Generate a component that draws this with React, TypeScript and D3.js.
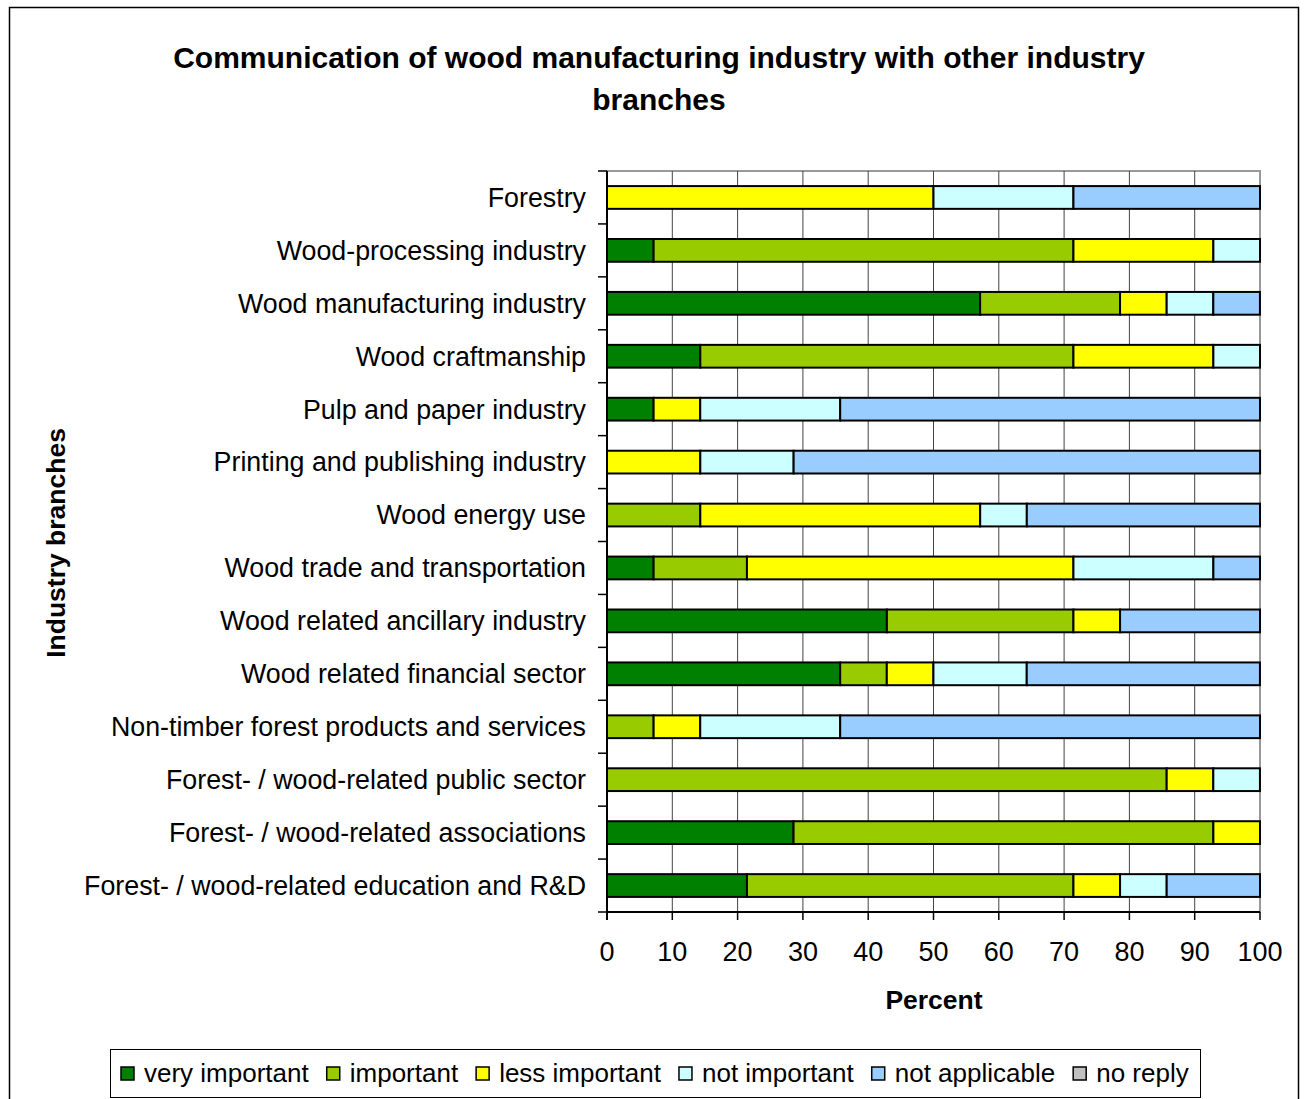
import React, { useEffect, useRef } from "react";
import * as d3 from "d3";

const categories = [
  "Forestry",
  "Wood-processing industry",
  "Wood manufacturing industry",
  "Wood craftmanship",
  "Pulp and paper industry",
  "Printing and publishing industry",
  "Wood energy use",
  "Wood trade and transportation",
  "Wood related ancillary industry",
  "Wood related financial sector",
  "Non-timber forest products and services",
  "Forest- / wood-related public sector",
  "Forest- / wood-related associations",
  "Forest- / wood-related education and R&D",
];

const seriesNames = ["very important", "important", "less important", "not important", "not applicable", "no reply"];
const seriesColors = ["#008000", "#99CC00", "#FFFF00", "#CCFFFF", "#99CCFF", "#C0C0C0"];

// percent values per series, in the same order as categories
const veryImportant = [0, 7.14, 57.14, 14.29, 7.14, 0, 0, 7.14, 42.86, 35.71, 0, 0, 28.57, 21.43];
const important = [0, 64.29, 21.43, 57.14, 0, 0, 14.29, 14.29, 28.57, 7.14, 7.14, 85.71, 64.29, 50];
const lessImportant = [50, 21.43, 7.14, 21.43, 7.14, 14.29, 42.86, 50, 7.14, 7.14, 7.14, 7.14, 7.14, 7.14];
const notImportant = [21.43, 7.14, 7.14, 7.14, 21.43, 14.29, 7.14, 21.43, 0, 14.29, 21.43, 7.14, 0, 7.14];
const notApplicable = [28.57, 0, 7.14, 0, 64.29, 71.43, 35.71, 7.14, 21.43, 35.71, 64.29, 0, 0, 14.29];
const noReply = [0, 0, 0, 0, 0, 0, 0, 0, 0, 0, 0, 0, 0, 0];

const xTicks = [0, 10, 20, 30, 40, 50, 60, 70, 80, 90, 100];

export default function App() {
  const ref = useRef<SVGSVGElement>(null);

  useEffect(() => {
    const svg = d3.select(ref.current);
    svg.selectAll("*").remove();
    const font = "'Liberation Sans', Arial, sans-serif";

    var left = 607, right = 1260, top = 171, bottom = 912;

    // outer frame
    svg.append("rect").attr("x", 9.5).attr("y", 7.5).attr("width", 1289).attr("height", 1100)
      .attr("fill", "white").attr("stroke", "#000").attr("stroke-width", 1.5);

    svg.append("text").attr("x", 659).attr("y", 68).attr("text-anchor", "middle")
      .attr("font-family", font).attr("font-size", 30).attr("font-weight", "bold")
      .text("Communication of wood manufacturing industry with other industry");
    svg.append("text").attr("x", 659).attr("y", 110).attr("text-anchor", "middle")
      .attr("font-family", font).attr("font-size", 30).attr("font-weight", "bold")
      .text("branches");

    var data = categories.map((c, i) => ({
      cat: c,
      "very important": veryImportant[i],
      important: important[i],
      "less important": lessImportant[i],
      "not important": notImportant[i],
      "not applicable": notApplicable[i],
      "no reply": noReply[i],
    }));

    var x = d3.scaleLinear().domain([0, 100]).range([left, right]);
    var y = d3.scaleBand().domain(categories).range([top, bottom]).paddingInner(0.57).paddingOuter(0.285);
    var band = (bottom - top) / categories.length;

    var g = svg.append("g");

    // plot area border and gridlines
    g.append("rect").attr("x", left).attr("y", top).attr("width", right - left).attr("height", bottom - top)
      .attr("fill", "white").attr("stroke", "#999").attr("stroke-width", 2);
    g.selectAll(".grid").data(xTicks.slice(1, -1)).join("line")
      .attr("x1", (d) => x(d)).attr("x2", (d) => x(d))
      .attr("y1", top).attr("y2", bottom)
      .attr("stroke", "#444").attr("stroke-width", 1);

    // stacked bars
    var stack = d3.stack<any>().keys(seriesNames)(data);
    stack.forEach((s, si) => {
      g.selectAll(".bar" + si).data(s).join("rect")
        .filter((d) => d[1] - d[0] > 0)
        .attr("x", (d) => x(d[0]))
        .attr("y", (d) => y(d.data.cat) as number)
        .attr("width", (d) => x(d[1]) - x(d[0]))
        .attr("height", y.bandwidth())
        .attr("fill", seriesColors[si])
        .attr("stroke", "#000").attr("stroke-width", 2);
    });

    // y axis
    g.append("line").attr("x1", left).attr("x2", left).attr("y1", top).attr("y2", bottom + 8)
      .attr("stroke", "#000").attr("stroke-width", 2);
    d3.range(categories.length + 1).forEach((i) => {
      g.append("line").attr("x1", left - 9).attr("x2", left).attr("y1", top + i * band).attr("y2", top + i * band)
        .attr("stroke", "#000").attr("stroke-width", 1.5);
    });
    g.selectAll(".ylab").data(categories).join("text")
      .attr("x", left - 21)
      .attr("y", (d) => (y(d) as number) + y.bandwidth() / 2)
      .attr("dy", "0.35em")
      .attr("text-anchor", "end")
      .attr("font-family", font).attr("font-size", 26.8)
      .text((d) => d);

    // x axis
    g.append("line").attr("x1", left).attr("x2", right).attr("y1", bottom).attr("y2", bottom)
      .attr("stroke", "#000").attr("stroke-width", 2);
    g.selectAll(".xt").data(xTicks).join("line")
      .attr("x1", (d) => x(d)).attr("x2", (d) => x(d))
      .attr("y1", bottom).attr("y2", bottom + 8)
      .attr("stroke", "#000").attr("stroke-width", 1.5);
    g.selectAll(".xlab").data(xTicks).join("text")
      .attr("x", (d) => x(d)).attr("y", 961)
      .attr("text-anchor", "middle")
      .attr("font-family", font).attr("font-size", 27)
      .text((d) => d);

    svg.append("text").attr("x", 934).attr("y", 1009).attr("text-anchor", "middle")
      .attr("font-family", font).attr("font-size", 26.5).attr("font-weight", "bold").text("Percent");
    svg.append("text").attr("transform", "translate(65,543) rotate(-90)").attr("text-anchor", "middle")
      .attr("font-family", font).attr("font-size", 26.5).attr("font-weight", "bold").text("Industry branches");

    // legend
    var lg = svg.append("g");
    lg.append("rect").attr("x", 110.5).attr("y", 1049.5).attr("width", 1090).attr("height", 48)
      .attr("fill", "white").attr("stroke", "#000").attr("stroke-width", 1);
    var lx = 121;
    seriesNames.forEach((name, i) => {
      lg.append("rect").attr("x", lx).attr("y", 1067).attr("width", 13).attr("height", 13)
        .attr("fill", seriesColors[i]).attr("stroke", "#000").attr("stroke-width", 1.5);
      var t = lg.append("text").attr("x", lx + 23).attr("y", 1082)
        .attr("font-family", font).attr("font-size", 26).text(name);
      var w = (t.node() as SVGTextElement).getComputedTextLength();
      lx += 23 + w + 18;
    });
  }, []);

  return (
    <svg ref={ref} width={1304} height={1099} style={{ display: "block", position: "absolute", left: 0, top: 0 }} />
  );
}
